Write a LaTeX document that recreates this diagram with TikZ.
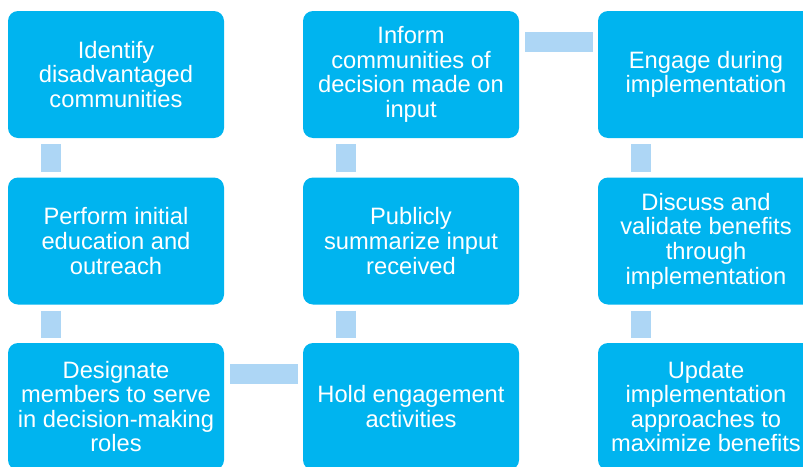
\documentclass[tikz,border=0pt]{standalone}
\usepackage{fontspec}
\setmainfont{Liberation Sans}
\definecolor{boxblue}{HTML}{00B4EF}
\definecolor{linkblue}{HTML}{ADD6F5}

\begin{document}
\begin{tikzpicture}
  [x=1pt,y=-1pt,
   every node/.style={rectangle,rounded corners=10pt,fill=boxblue,text=white,
     minimum width=216pt,minimum height=127pt,align=center,
     font=\fontsize{23.7}{24.6}\selectfont},
   link/.style={draw=linkblue,line width=20pt,line cap=butt}]
  \useasboundingbox (0,0) rectangle (803,466);

  \node (1) at (116,74.5)  {Identify\\disadvantaged\\communities};
  \node (2) at (116,241)   {Perform initial\\education and\\outreach};
  \node (3) at (116,406.5) {Designate\\members to serve\\in decision-making\\roles};
  \node (4) at (411,406.5) {Hold engagement\\activities};
  \node (5) at (411,241)   {Publicly\\summarize input\\received};
  \node (6) at (411,74.5)  {Inform\\communities of\\decision made on\\input};
  \node (7) at (706,74.5)  {Engage during\\implementation};
  \node (8) at (706,241)   {Discuss and\\validate benefits\\through\\implementation};
  \node (9) at (706,406.5) {Update\\implementation\\approaches to\\maximize benefits};

  \foreach \from/\to in {1/2,2/3,6/5,5/4,7/8,8/9}
    \draw[link,shorten <=6pt,shorten >=5pt]
      ([xshift=43pt]\from.south west) -- ([xshift=43pt]\to.north west);
  \foreach \from/\to in {3/4,6/7}
    \draw[link,shorten <=6pt,shorten >=5pt]
      ([yshift=-31pt]\from.north east) -- ([yshift=-31pt]\to.north west);

\end{tikzpicture}
\end{document}
